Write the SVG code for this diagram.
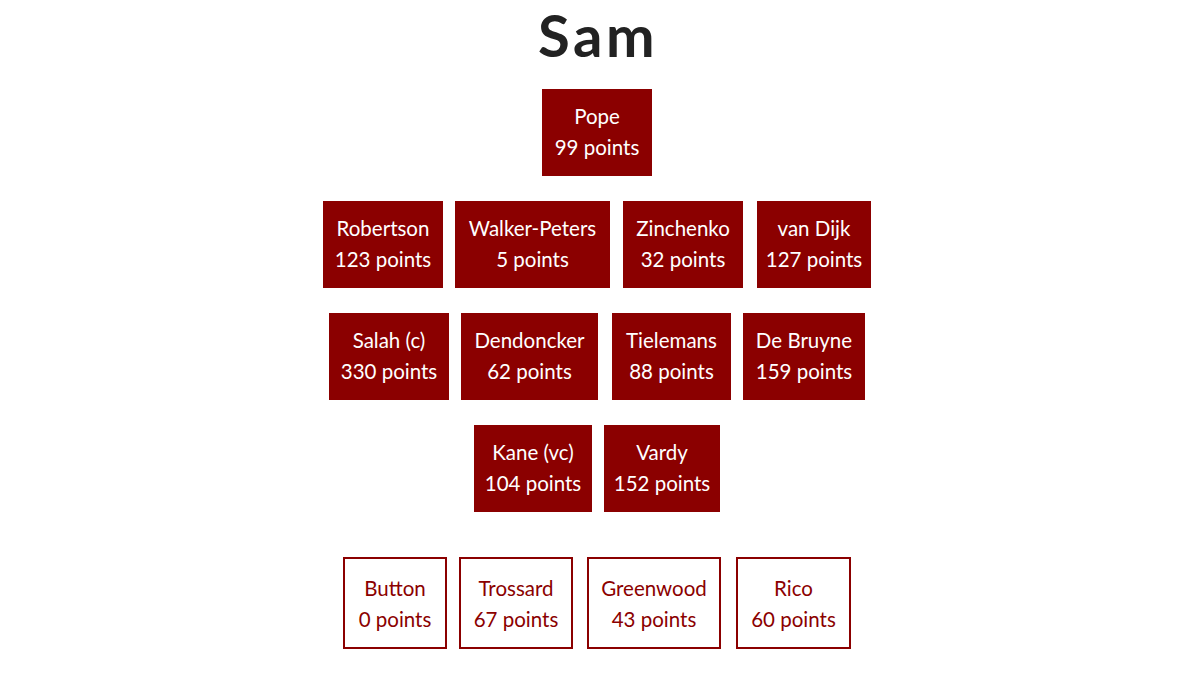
<svg xmlns="http://www.w3.org/2000/svg" width="1200" height="675" viewBox="0 0 1200 675">
<style>
.s rect{fill:#8b0000}
.b rect{fill:#fff;stroke:#8b0000;stroke-width:2}
text{font-family:Lato,"Open Sans",sans-serif;font-size:20.5px;text-anchor:middle}
.s text{fill:#fff}
.b text{fill:#8b0000}
.t{font-size:58px;font-weight:700;fill:#222;letter-spacing:3.5px}
</style>
<rect width="1200" height="675" fill="#fff"/>
<text class="t" x="598" y="57">Sam</text>
<g id="connectors"/>
<g id="pope" class="s"><rect x="542" y="89" width="110" height="87"/><text x="597" y="124">Pope</text><text x="597" y="155">99 points</text></g>
<g id="robertson" class="s"><rect x="323" y="201" width="120" height="87"/><text x="383" y="236">Robertson</text><text x="383" y="267">123 points</text></g>
<g id="walker-peters" class="s"><rect x="455" y="201" width="155" height="87"/><text x="532.5" y="236">Walker-Peters</text><text x="532.5" y="267">5 points</text></g>
<g id="zinchenko" class="s"><rect x="623" y="201" width="120" height="87"/><text x="683" y="236">Zinchenko</text><text x="683" y="267">32 points</text></g>
<g id="vandijk" class="s"><rect x="757" y="201" width="114" height="87"/><text x="814" y="236">van Dijk</text><text x="814" y="267">127 points</text></g>
<g id="salah" class="s"><rect x="329" y="313" width="120" height="87"/><text x="389" y="348">Salah (c)</text><text x="389" y="379">330 points</text></g>
<g id="dendoncker" class="s"><rect x="461" y="313" width="137" height="87"/><text x="529.5" y="348">Dendoncker</text><text x="529.5" y="379">62 points</text></g>
<g id="tielemans" class="s"><rect x="612" y="313" width="119" height="87"/><text x="671.5" y="348">Tielemans</text><text x="671.5" y="379">88 points</text></g>
<g id="debruyne" class="s"><rect x="743" y="313" width="122" height="87"/><text x="804" y="348">De Bruyne</text><text x="804" y="379">159 points</text></g>
<g id="kane" class="s"><rect x="474" y="425" width="118" height="87"/><text x="533" y="460">Kane (vc)</text><text x="533" y="491">104 points</text></g>
<g id="vardy" class="s"><rect x="604" y="425" width="116" height="87"/><text x="662" y="460">Vardy</text><text x="662" y="491">152 points</text></g>
<g id="button" class="b"><rect x="344" y="558" width="102" height="90"/><text x="395" y="596">Button</text><text x="395" y="627">0 points</text></g>
<g id="trossard" class="b"><rect x="460" y="558" width="112" height="90"/><text x="516" y="596">Trossard</text><text x="516" y="627">67 points</text></g>
<g id="greenwood" class="b"><rect x="588" y="558" width="132" height="90"/><text x="654" y="596">Greenwood</text><text x="654" y="627">43 points</text></g>
<g id="rico" class="b"><rect x="737" y="558" width="113" height="90"/><text x="793.5" y="596">Rico</text><text x="793.5" y="627">60 points</text></g>
</svg>
